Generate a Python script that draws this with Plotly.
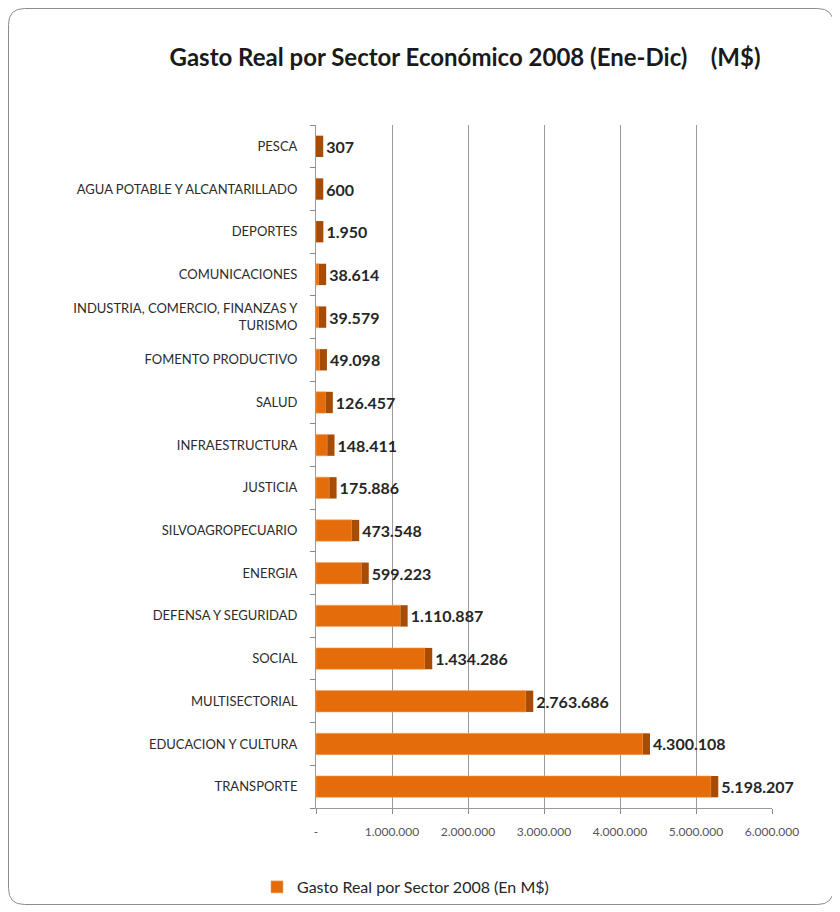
import plotly.graph_objects as go

sectores = [
    "PESCA",
    "AGUA POTABLE Y ALCANTARILLADO",
    "DEPORTES",
    "COMUNICACIONES",
    "INDUSTRIA, COMERCIO, FINANZAS Y<br>TURISMO",
    "FOMENTO PRODUCTIVO",
    "SALUD",
    "INFRAESTRUCTURA",
    "JUSTICIA",
    "SILVOAGROPECUARIO",
    "ENERGIA",
    "DEFENSA Y SEGURIDAD",
    "SOCIAL",
    "MULTISECTORIAL",
    "EDUCACION Y CULTURA",
    "TRANSPORTE",
]
gasto = [307, 600, 1950, 38614, 39579, 49098, 126457, 148411, 175886,
         473548, 599223, 1110887, 1434286, 2763686, 4300108, 5198207]

tick_vals = [0, 1000000, 2000000, 3000000, 4000000, 5000000, 6000000]
tick_text = ["-", "1.000.000", "2.000.000", "3.000.000", "4.000.000", "5.000.000", "6.000.000"]

serie = "Gasto Real por Sector 2008 (En M$)"
titulo = "<b>Gasto Real por Sector Económico 2008 (Ene-Dic)    (M$)</b>"

# depth of the pseudo-3D side face, in value units
profundidad = [95000] * len(gasto)

front = "#E46C0A"
side = "#A64C05"
FONT = "Lato, Open Sans, sans-serif"

fig = go.Figure()
fig.add_trace(go.Bar(
    y=sectores, x=gasto, orientation="h", name=serie,
    marker=dict(color=front, line=dict(color="#F7A35C", width=0.6)),
    showlegend=True,
))
fig.add_trace(go.Bar(
    y=sectores, x=profundidad, base=gasto, orientation="h",
    marker=dict(color=side, line=dict(width=0)),
    text=[f"<b>{v:,}</b>".replace(",", ".") for v in gasto],
    textposition="outside", cliponaxis=False,
    textfont=dict(family=FONT, size=16, color="#262626"),
    showlegend=False, hoverinfo="skip",
))

W, H = 832, 904
L, R, T, B = 308, 764, 117, 800

def px(x):
    return (x - L) / (R - L)

def py(y):
    return (B - y) / (B - T)

x0, x1, y0, y1, r = 0.5, 825.5, 0.5, 896.5, 16
path = (f"M {px(x0 + r)} {py(y0)} L {px(x1 - r)} {py(y0)} "
        f"Q {px(x1)} {py(y0)} {px(x1)} {py(y0 + r)} "
        f"L {px(x1)} {py(y1 - r)} Q {px(x1)} {py(y1)} {px(x1 - r)} {py(y1)} "
        f"L {px(x0 + r)} {py(y1)} Q {px(x0)} {py(y1)} {px(x0)} {py(y1 - r)} "
        f"L {px(x0)} {py(y0 + r)} Q {px(x0)} {py(y0)} {px(x0 + r)} {py(y0)} Z")

fig.update_layout(
    width=W, height=H,
    margin=dict(l=L, r=W - R, t=T, b=H - B),
    paper_bgcolor="white", plot_bgcolor="white",
    barmode="overlay", bargap=0.5,
    separators=",.",
    font=dict(family=FONT, color="#404040"),
    title=dict(text=titulo, x=457 / W, xanchor="center", y=1 - 50 / H, yanchor="middle",
               font=dict(size=24, color="#1a1a1a")),
    xaxis=dict(range=[0, 6000000], tickvals=tick_vals, ticktext=tick_text,
               showgrid=True, gridcolor="#9a9a9a", gridwidth=1,
               ticks="outside", ticklen=5, tickcolor="#888",
               showline=True, linecolor="#9a9a9a",
               tickfont=dict(size=12, color="#555"), zeroline=False,
               ticklabelstandoff=8),
    yaxis=dict(categoryorder="array", categoryarray=sectores[::-1],
               tickson="boundaries", ticks="outside", ticklen=5, tickcolor="#888",
               showline=True, linecolor="#9a9a9a", showgrid=False,
               ticklabelstandoff=15,
               tickfont=dict(size=13, color="#2b2b2b")),
    legend=dict(orientation="h", xref="container", yref="container",
                x=249 / W, xanchor="left", y=1 - 879 / H, yanchor="middle",
                font=dict(size=16, color="#262626")),
    shapes=[dict(type="path", path=path, xref="paper", yref="paper",
                 line=dict(color="#8c8c8c", width=1), fillcolor="rgba(0,0,0,0)",
                 layer="below")],
)

fig.write_html("out.html")
